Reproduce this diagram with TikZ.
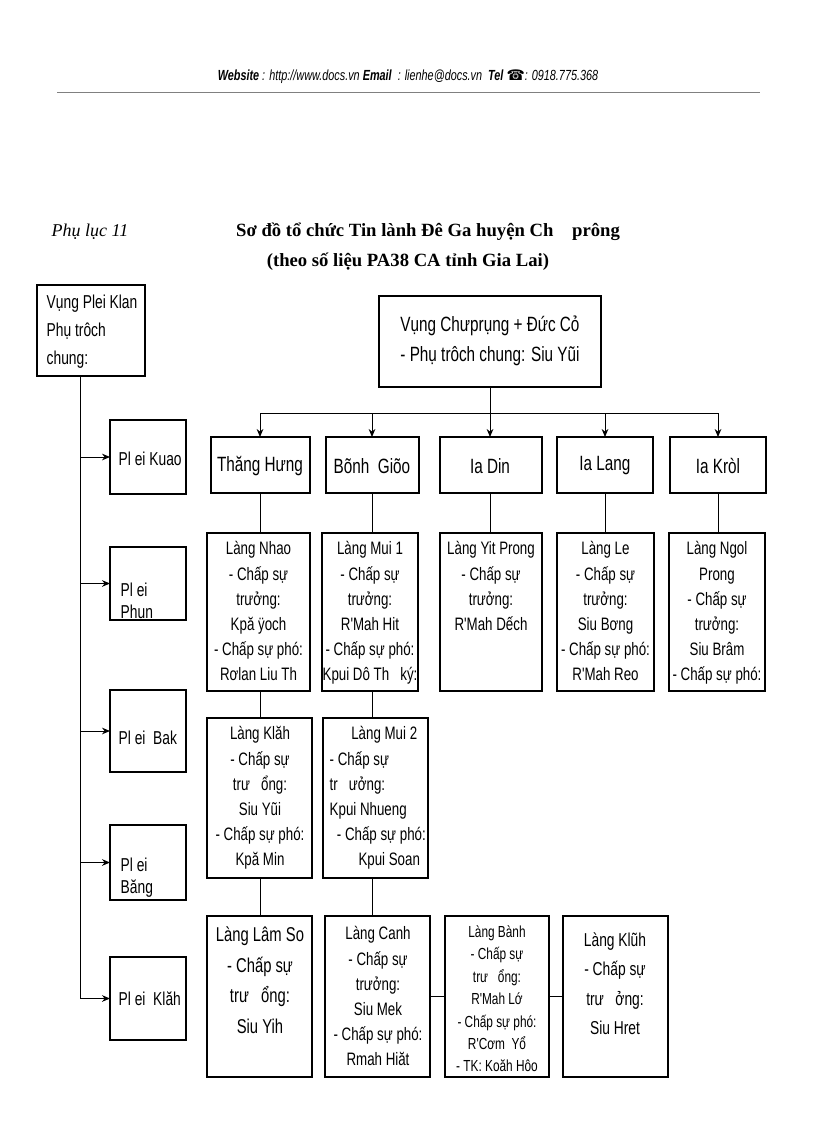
\documentclass[tikz,border=0pt]{standalone}
\usepackage{fontspec}
\setmainfont{Liberation Serif}
\newfontfamily\nar[FakeStretch=0.74]{Liberation Sans}
\newfontfamily\dv{DejaVu Sans}
\usetikzlibrary{arrows.meta}
\begin{document}
\begin{tikzpicture}[x=0.75pt,y=-0.75pt,
 bx/.style={draw,line width=0.9pt,minimum width=0pt},
 txt/.style={font=\nar\fontsize{13.5}{18.8}\selectfont,align=center,anchor=north},
 arr/.style={-{Stealth[length=6pt,width=5pt]},line width=0.7pt},
 ln/.style={line width=0.7pt}]
\useasboundingbox (0,0) rectangle (816,1123);
\node[font=\nar\bfseries\itshape\fontsize{11}{12}\selectfont] (hdr) at (408,77) {Website \textmd{: http://www.docs.vn} Email \textmd{\ : lienhe@docs.vn}\ \ Tel {\dv\char"260E}\textmd{: 0918.775.368}};
\draw[line width=0.4pt,gray] (57,92) -- (760,92);
\node[font=\itshape\fontsize{13.5}{15}\selectfont] (pl) at (90,232) {Phụ lục 11};
\node[font=\bfseries\fontsize{14}{15}\selectfont] (t1) at (428,232) {Sơ đồ tổ chức Tin lành Đê Ga huyện Ch\quad prông};
\node[font=\bfseries\fontsize{14}{15}\selectfont] (t2) at (408,262) {(theo số liệu PA38 CA tỉnh Gia Lai)};
% left
\draw[bx] (37,285) rectangle (145,376);
\node[txt,anchor=north west,align=left,font=\nar\fontsize{14}{21}\selectfont] (lk) at (42,290) {Vụng Plei Klan\\Phụ trôch\\chung:};
\coordinate (lt) at (80,376);
\coordinate (lb) at (80,998);
\draw[ln] (lt) -- (lb);
\foreach \n/\ya/\yb in {a/420/494,b/547/620,c/690/772,d/825/900,e/957/1040}{
  \draw[bx] (110,\ya) rectangle (186,\yb);
  \coordinate (L\n) at (80,{(\ya+\yb)/2});
  \coordinate (P\n) at (110,{(\ya+\yb)/2});
  \draw[arr] (L\n) -- (P\n);
}
\node[txt,anchor=west,font=\nar\fontsize{14}{15}\selectfont] at (114,459) {Pl ei Kuao};
\node[txt,anchor=north west,align=left,font=\nar\fontsize{14}{20}\selectfont] at (116,578) {Pl ei\\[-3pt]Phun};
\node[txt,anchor=west,font=\nar\fontsize{14}{15}\selectfont] at (114,738) {Pl ei\ \ Bak};
\node[txt,anchor=north west,align=left,font=\nar\fontsize{14}{20}\selectfont] at (116,853) {Pl ei\\[-3pt]Băng};
\node[txt,anchor=west,font=\nar\fontsize{14}{15}\selectfont] at (114,999) {Pl ei\ \ Klăh};
% top box
\draw[bx] (379,296) rectangle (601,387);
\node[txt,anchor=center,font=\nar\fontsize{15.5}{22}\selectfont] (top) at (490,341) {Vụng Chưprụng + Đức Cỏ\\- Phụ trôch chung: Siu Yũi};
\coordinate (tb) at (490,387);
\coordinate (bus) at (490,413);
\draw[ln] (tb) -- (bus);
\draw[ln] (260,413) -- (718,413);
\foreach \x/\xa/\xb/\t/\n in {260/211/310/{Thăng Hưng}/r1,372/326/419/{Bõnh\ \ Giõo}/r2,490/440/542/{Ia Din}/r3,605/557/653/{Ia Lang}/r4,718/670/766/{Ia Kròl}/r5}{
  \draw[bx] (\xa,437) rectangle (\xb,493);
  \node[font=\nar\fontsize{15.5}{16}\selectfont] (\n) at (\x,466) {\t};
  \coordinate (B\n) at (\x,413);
  \coordinate (T\n) at (\x,437);
  \draw[arr] (B\n) -- (T\n);
}
% row 1
\foreach \xa/\xb/\t in {
207/310/{Làng Nhao\\- Chấp sự\\trưởng:\\Kpă ÿoch\\- Chấp sự phó:\\Rơlan Liu Th},
322/418/{Làng Mui 1\\- Chấp sự\\trưởng:\\R'Mah Hit\\- Chấp sự phó:\\Kpui Dô Th\ \ \ ký:},
440/542/{Làng Yit Prong\\- Chấp sự\\trưởng:\\R'Mah Dếch},
557/654/{Làng Le\\- Chấp sự\\trưởng:\\Siu Bơng\\- Chấp sự phó:\\R'Mah Reo},
669/765/{Làng Ngol\\Prong\\- Chấp sự\\trưởng:\\Siu Brâm\\- Chấp sự phó:}}{
  \draw[bx] (\xa,533) rectangle (\xb,691);
  \node[txt] at ({(\xa+\xb)/2},537) {\t};
}
% row 2
\draw[bx] (207,718) rectangle (312,878);
\node[txt] at (260,722) {Làng Klăh\\- Chấp sự\\trư\ \ \ ổng:\\Siu Yũi\\- Chấp sự phó:\\Kpă Min};
\draw[bx] (323,718) rectangle (428,878);
\node[txt,anchor=north west,align=left] at (325,722) {\hspace*{1.2em}Làng Mui 2\\- Chấp sự\\tr\ \ \ ưởng:\\Kpui Nhueng\\\hspace*{0.4em}- Chấp sự phó:\\\hspace*{1.6em}Kpui Soan};
% row 3
\draw[bx] (207,916) rectangle (312,1077);
\node[txt,font=\nar\fontsize{15}{23}\selectfont] at (260,922) {Làng Lâm So\\- Chấp sự\\trư\ \ \ ổng:\\Siu Yih};
\draw[bx] (325,916) rectangle (430,1077) ;
\node[txt] at (378,922) {Làng Canh\\- Chấp sự\\trưởng:\\Siu Mek\\- Chấp sự phó:\\Rmah Hiăt};
\draw[bx] (445,916) rectangle (549,1077);
\node[txt,font=\nar\fontsize{12}{16.8}\selectfont] at (497,921) {Làng Bành\\- Chấp sự\\trư\ \ \ ổng:\\R'Mah Lớ\\- Chấp sự phó:\\R'Cơm\ \ Yổ\\- TK: Koăh Hôo};
\draw[bx] (563,916) rectangle (668,1077);
\node[txt,font=\nar\fontsize{14}{22}\selectfont] at (615,928) {Làng Klũh\\- Chấp sự\\trư\ \ \ ởng:\\Siu Hret};
% vertical connectors
\foreach \x/\a/\b in {260/493/533,260/691/718,260/878/916,372/493/533,372/691/718,372/878/916,490/493/533,605/493/533,718/493/533}{
  \coordinate (u) at (\x,\a); \coordinate (v) at (\x,\b);
  \draw[ln] (u) -- (v);
}
\coordinate (h1) at (430,996); \coordinate (h2) at (445,996);
\coordinate (h3) at (549,996); \coordinate (h4) at (563,996);
\draw[ln] (h1) -- (h2); \draw[ln] (h3) -- (h4);
\end{tikzpicture}
\end{document}
